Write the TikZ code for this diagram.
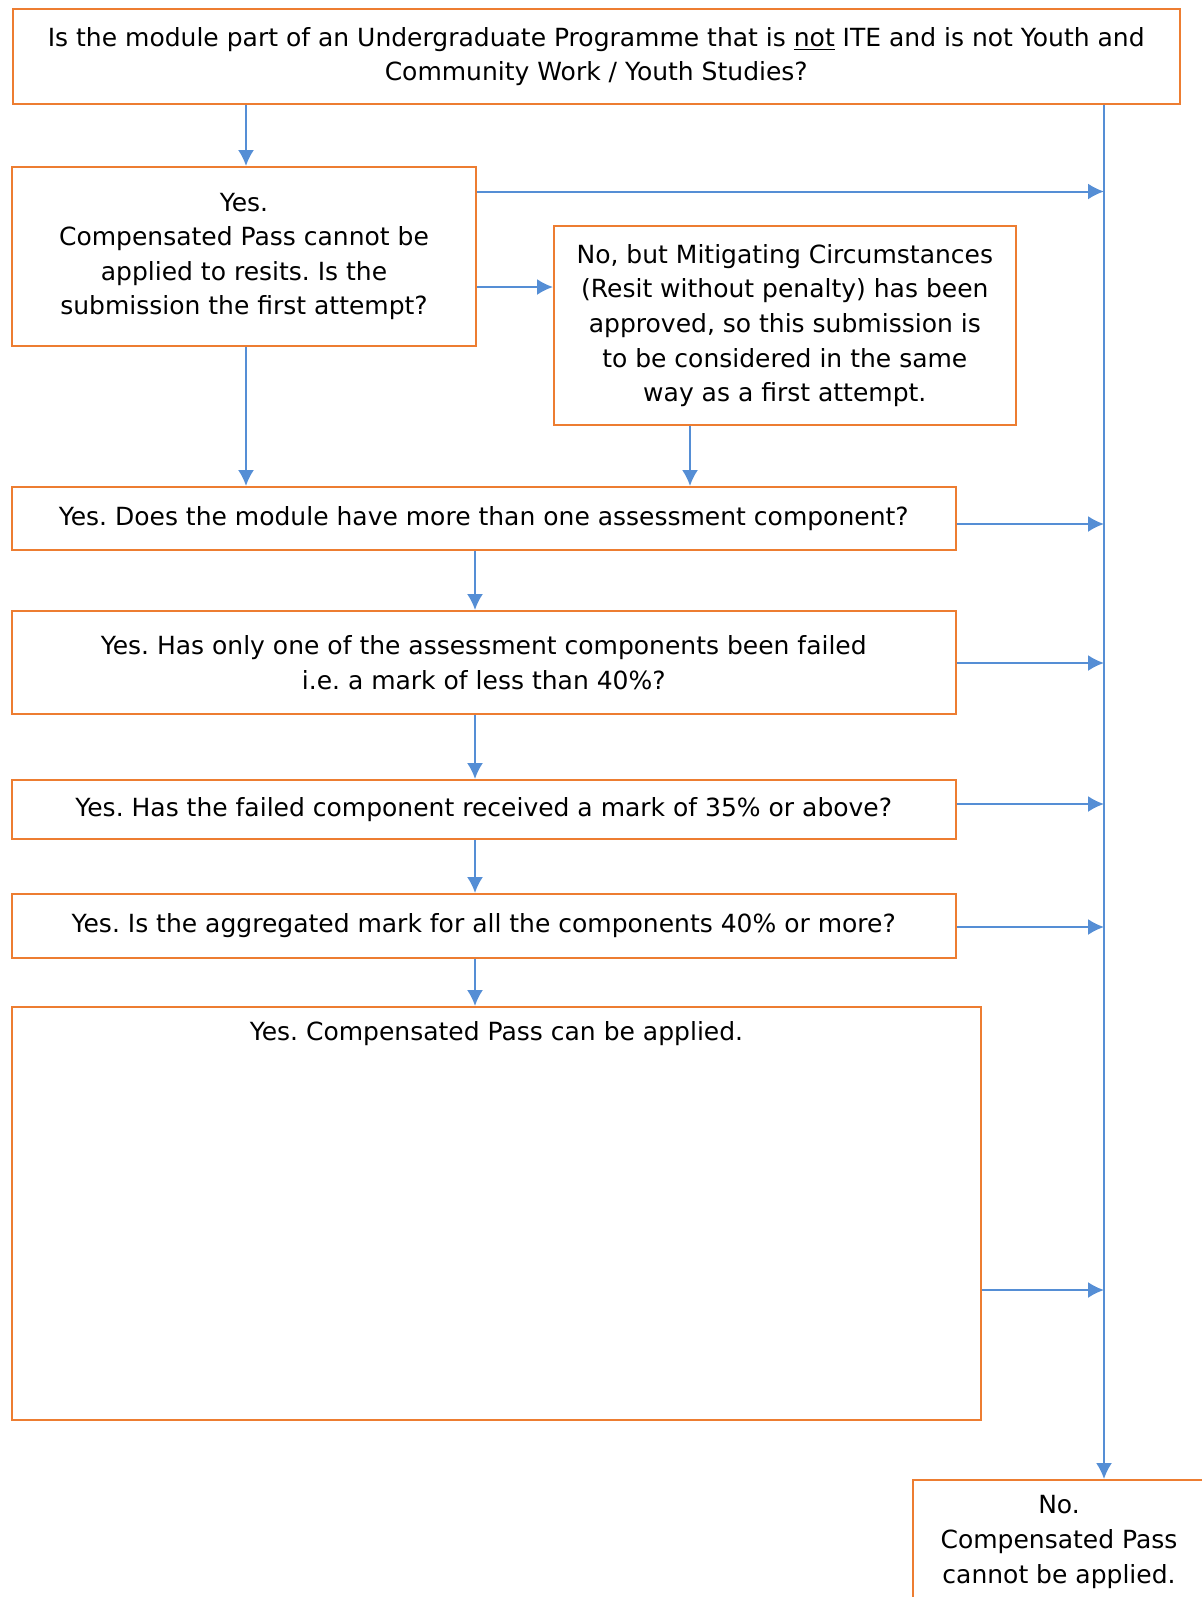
\documentclass[tikz,border=0pt]{standalone}
\usepackage{fontspec}
\setmainfont{DejaVu Sans}
\usetikzlibrary{arrows.meta}
\definecolor{boxorange}{HTML}{ED7D31}
\definecolor{linkblue}{HTML}{558ED5}
\frenchspacing
\tikzset{
  qbox/.style={draw=boxorange,line width=1pt,align=center,inner sep=0pt,
    font=\fontsize{12.5}{17.3}\selectfont},
  arr/.style={->,>={Latex[length=8pt,width=8pt]},draw=linkblue,line width=1pt}
}
\begin{document}
\begin{tikzpicture}[x=0.5pt,y=-0.5pt]
\useasboundingbox (0,0) rectangle (1202,1597);

\node[qbox,minimum width=583.75pt,minimum height=47.5pt] (top) at (596.25,56.5)
  {Is the module part of an Undergraduate Programme that is \underline{not} ITE and is not Youth and\\
   Community Work / Youth Studies?};
\node[qbox,minimum width=232pt,minimum height=89.5pt] (yes1) at (244,256.5)
  {Yes.\\Compensated Pass cannot be\\applied to resits. Is the\\submission the first attempt?};
\node[qbox,minimum width=230.8pt,minimum height=99.5pt] (mitig) at (784.8,325.5)
  {No, but Mitigating Circumstances\\(Resit without penalty) has been\\approved, so this submission is\\to be considered in the same\\way as a first attempt.};
\node[qbox,minimum width=471.75pt,minimum height=31.25pt] (multi) at (483.75,518.25)
  {Yes. Does the module have more than one assessment component?};
\node[qbox,minimum width=471.75pt,minimum height=51.5pt] (onefail) at (483.75,662.5)
  {Yes. Has only one of the assessment components been failed\\i.e. a mark of less than 40\%?};
\node[qbox,minimum width=471.75pt,minimum height=29.5pt] (above) at (483.75,809.5)
  {Yes. Has the failed component received a mark of 35\% or above?};
\node[qbox,minimum width=471.75pt,minimum height=31.75pt] (aggr) at (483.75,925.75)
  {Yes. Is the aggregated mark for all the components 40\% or more?};
\node[qbox,minimum width=484.5pt,minimum height=206.5pt,
  label={[font=\fontsize{12.5}{17.3}\selectfont,anchor=center,yshift=-14pt]north:Yes. Compensated Pass can be applied.}] (pass) at (496.5,1213.5) {};
\node[qbox,minimum width=146pt,minimum height=62pt] (nopass) at (1059,1542)
  {No.\\Compensated Pass\\cannot be applied.};

% columns of the connectors
\coordinate (colA) at (246,0);
\coordinate (colB) at (690,0);
\coordinate (colC) at (475,0);
\coordinate (r2) at (1104,191.5);
\coordinate (r4) at (1104,524);
\coordinate (r5) at (1104,663);
\coordinate (r6) at (1104,804);
\coordinate (r7) at (1104,927);
\coordinate (r8) at (1104,1290);
\coordinate (ny) at (554,287);

\draw[arr] (top.south -| r2) -- (nopass.north -| r2);
\draw[arr] (top.south -| colA) -- (yes1.north -| colA);
\draw[arr] (yes1.east |- r2) -- (r2);
\draw[arr] (yes1.east |- ny) -- (mitig.west |- ny);
\draw[arr] (yes1.south -| colA) -- (multi.north -| colA);
\draw[arr] (mitig.south -| colB) -- (multi.north -| colB);
\draw[arr] (multi.east |- r4) -- (r4);
\draw[arr] (multi.south -| colC) -- (onefail.north -| colC);
\draw[arr] (onefail.east |- r5) -- (r5);
\draw[arr] (onefail.south -| colC) -- (above.north -| colC);
\draw[arr] (above.east |- r6) -- (r6);
\draw[arr] (above.south -| colC) -- (aggr.north -| colC);
\draw[arr] (aggr.east |- r7) -- (r7);
\draw[arr] (aggr.south -| colC) -- (pass.north -| colC);
\draw[arr] (pass.east |- r8) -- (r8);

\end{tikzpicture}
\end{document}
